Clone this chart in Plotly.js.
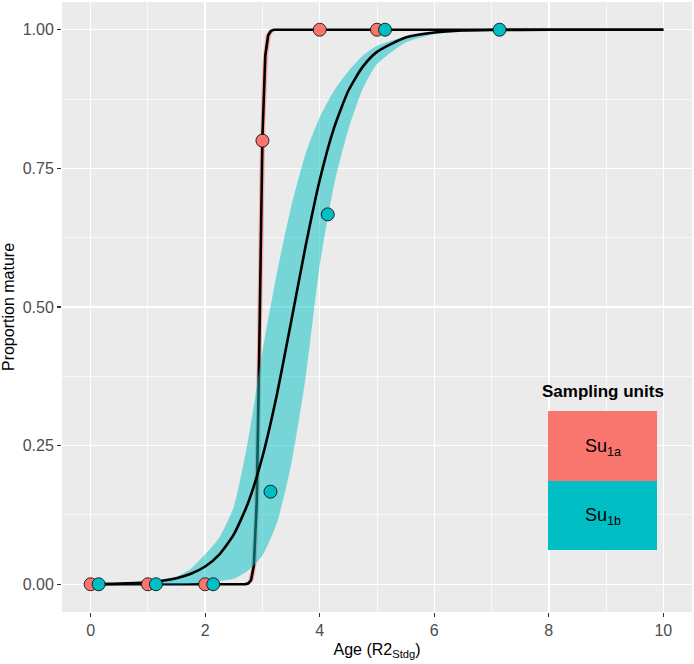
<!DOCTYPE html>
<html>
<head>
<meta charset="utf-8">
<script src="https://cdn.plot.ly/plotly-3.0.1.min.js"></script>
<style>html,body{margin:0;padding:0;background:#fff;}#chart{width:694px;height:664px;}</style>
</head>
<body>
<div id="chart"></div>
<script>
// Observed proportions mature by age class (points)
const su1aAge = [0, 1, 2, 3, 4, 5];
const su1aProp = [0, 0, 0, 0.8, 1, 1];
const su1bAge = [0.14, 1.14, 2.14, 3.14, 4.14, 5.14, 7.14];
const su1bProp = [0, 0, 0, 0.167, 0.667, 1, 1];

// Fitted curve Su1a
const fitAx = [0, 1, 2, 2.6, 2.7, 2.75, 2.8, 2.85, 2.9, 2.95, 3.0, 3.05, 3.1, 3.15, 3.2, 3.3, 4, 5, 6, 7, 8, 9, 10];
const fitAy = [0, 0, 0, 0, 0.0003, 0.0014, 0.007, 0.034, 0.147, 0.46, 0.808, 0.954, 0.99, 0.998, 1, 1, 1, 1, 1, 1, 1, 1, 1];
const fitAup = [0, 0, 0, 0.0002, 0.0012, 0.006, 0.028, 0.12, 0.4, 0.76, 0.94, 0.988, 0.998, 1, 1, 1, 1, 1, 1, 1, 1, 1, 1];
const fitAlo = [0, 0, 0, 0, 0.0001, 0.0004, 0.0018, 0.009, 0.04, 0.17, 0.5, 0.83, 0.955, 0.99, 0.998, 1, 1, 1, 1, 1, 1, 1, 1];

// Fitted curve Su1b with confidence band
const fitBx = [0, 0.5, 1, 1.25, 1.5, 1.75, 2, 2.25, 2.5, 2.75, 3, 3.25, 3.5, 3.75, 4, 4.25, 4.5, 4.75, 5, 5.5, 6, 6.5, 7, 8, 9, 10];
const fitBy = [0.0004, 0.0012, 0.0037, 0.0063, 0.011, 0.019, 0.032, 0.054, 0.09, 0.147, 0.23, 0.341, 0.473, 0.608, 0.729, 0.823, 0.89, 0.933, 0.96, 0.986, 0.995, 0.9985, 0.9995, 1, 1, 1];
const fitBup = [0.0005, 0.002, 0.006, 0.009, 0.014, 0.028, 0.054, 0.085, 0.14, 0.26, 0.42, 0.56, 0.68, 0.775, 0.842, 0.89, 0.925, 0.953, 0.971, 0.988, 0.996, 0.999, 1, 1, 1, 1];
const fitBlo = [0, 0, 0, 0, 0, 0.001, 0.003, 0.006, 0.01, 0.025, 0.052, 0.11, 0.215, 0.37, 0.575, 0.72, 0.82, 0.893, 0.938, 0.977, 0.992, 0.997, 0.999, 1, 1, 1];

const xTicks = [0, 2, 4, 6, 8, 10];
const yTicks = [0, 0.25, 0.5, 0.75, 1];
const legendLabels = ['Su<sub>1a</sub>', 'Su<sub>1b</sub>'];
const legendTitle = 'Sampling units';

const RED = '#F8766D', CYAN = '#00BFC4';
const FONT = 'Liberation Sans, Arial, sans-serif';

const traces = [
  {x: fitAx, y: fitAlo, mode: 'lines', line: {width: 0, color: RED}, hoverinfo: 'skip', showlegend: false},
  {x: fitAx, y: fitAup, mode: 'lines', line: {width: 0, color: RED}, fill: 'tonexty', fillcolor: 'rgba(248,118,109,0.55)', hoverinfo: 'skip', showlegend: false},
  {x: fitAx, y: fitAy, mode: 'lines', line: {width: 2.6, color: '#000'}, showlegend: false},
  {x: fitBx, y: fitBlo, mode: 'lines', line: {width: 0, color: CYAN, shape: 'spline', smoothing: 0.6}, hoverinfo: 'skip', showlegend: false},
  {x: fitBx, y: fitBup, mode: 'lines', line: {width: 0, color: CYAN, shape: 'spline', smoothing: 0.6}, fill: 'tonexty', fillcolor: 'rgba(0,191,196,0.5)', hoverinfo: 'skip', showlegend: false},
  {x: fitBx, y: fitBy, mode: 'lines', line: {width: 2.6, color: '#000', shape: 'spline', smoothing: 0.6}, showlegend: false},
  {x: su1aAge, y: su1aProp, mode: 'markers', marker: {size: 13, color: RED, line: {color: '#000', width: 0.8}}, cliponaxis: false, showlegend: false},
  {x: su1bAge, y: su1bProp, mode: 'markers', marker: {size: 13, color: CYAN, line: {color: '#000', width: 0.8}}, cliponaxis: false, showlegend: false}
];

const L = 62, R = 2, T = 2, B = 52, W = 694, H = 664;
const pw = W - L - R, ph = H - T - B;
function px2x(p){ return (p - L) / pw; }
function px2y(p){ return (H - B - p) / ph; }

const shapes = [
  {type: 'rect', xref: 'paper', yref: 'paper', x0: px2x(548), x1: px2x(657), y0: px2y(481), y1: px2y(411), fillcolor: RED, line: {width: 0}, layer: 'above'},
  {type: 'rect', xref: 'paper', yref: 'paper', x0: px2x(548), x1: px2x(657), y0: px2y(550), y1: px2y(481), fillcolor: CYAN, line: {width: 0}, layer: 'above'}
];
const annotations = [
  {xref: 'paper', yref: 'paper', x: px2x(603), y: px2y(391), text: '<b>' + legendTitle + '</b>', showarrow: false, font: {family: FONT, size: 17, color: '#000'}, xanchor: 'center', yanchor: 'middle'},
  {xref: 'paper', yref: 'paper', x: px2x(603), y: px2y(447), text: legendLabels[0], showarrow: false, font: {family: FONT, size: 18, color: '#000'}, xanchor: 'center', yanchor: 'middle'},
  {xref: 'paper', yref: 'paper', x: px2x(603), y: px2y(516), text: legendLabels[1], showarrow: false, font: {family: FONT, size: 18, color: '#000'}, xanchor: 'center', yanchor: 'middle'}
];

const layout = {
  width: W, height: H,
  margin: {l: L, r: R, t: T, b: B, pad: 0},
  paper_bgcolor: '#FFFFFF',
  plot_bgcolor: '#EBEBEB',
  showlegend: false,
  font: {family: FONT, color: '#4D4D4D'},
  xaxis: {
    range: [-0.5, 10.5], tickvals: xTicks, ticktext: xTicks.map(String),
    showgrid: true, gridcolor: '#FFFFFF', gridwidth: 1.4, zeroline: false, showline: false,
    ticks: 'outside', ticklen: 4, tickwidth: 1.1, tickcolor: '#333333',
    tickfont: {size: 16, color: '#4D4D4D'},
    minor: {dtick: 1, tick0: 1, showgrid: true, gridcolor: '#FFFFFF', gridwidth: 0.7, ticklen: 0},
    title: {text: 'Age (R2<sub>Stdg</sub>)', font: {size: 16, color: '#000'}, standoff: 5}
  },
  yaxis: {
    range: [-0.05, 1.05], tickvals: yTicks, ticktext: yTicks.map(v => v.toFixed(2)),
    showgrid: true, gridcolor: '#FFFFFF', gridwidth: 1.4, zeroline: false, showline: false,
    ticks: 'outside', ticklen: 4, tickwidth: 1.1, tickcolor: '#333333',
    tickfont: {size: 16, color: '#4D4D4D'},
    minor: {dtick: 0.125, tick0: 0.125, showgrid: true, gridcolor: '#FFFFFF', gridwidth: 0.7, ticklen: 0},
    title: {text: 'Proportion mature', font: {size: 16, color: '#000'}, standoff: 5}
  },
  shapes: shapes,
  annotations: annotations
};

Plotly.newPlot('chart', traces, layout, {staticPlot: true, displayModeBar: false});
</script>
</body>
</html>
